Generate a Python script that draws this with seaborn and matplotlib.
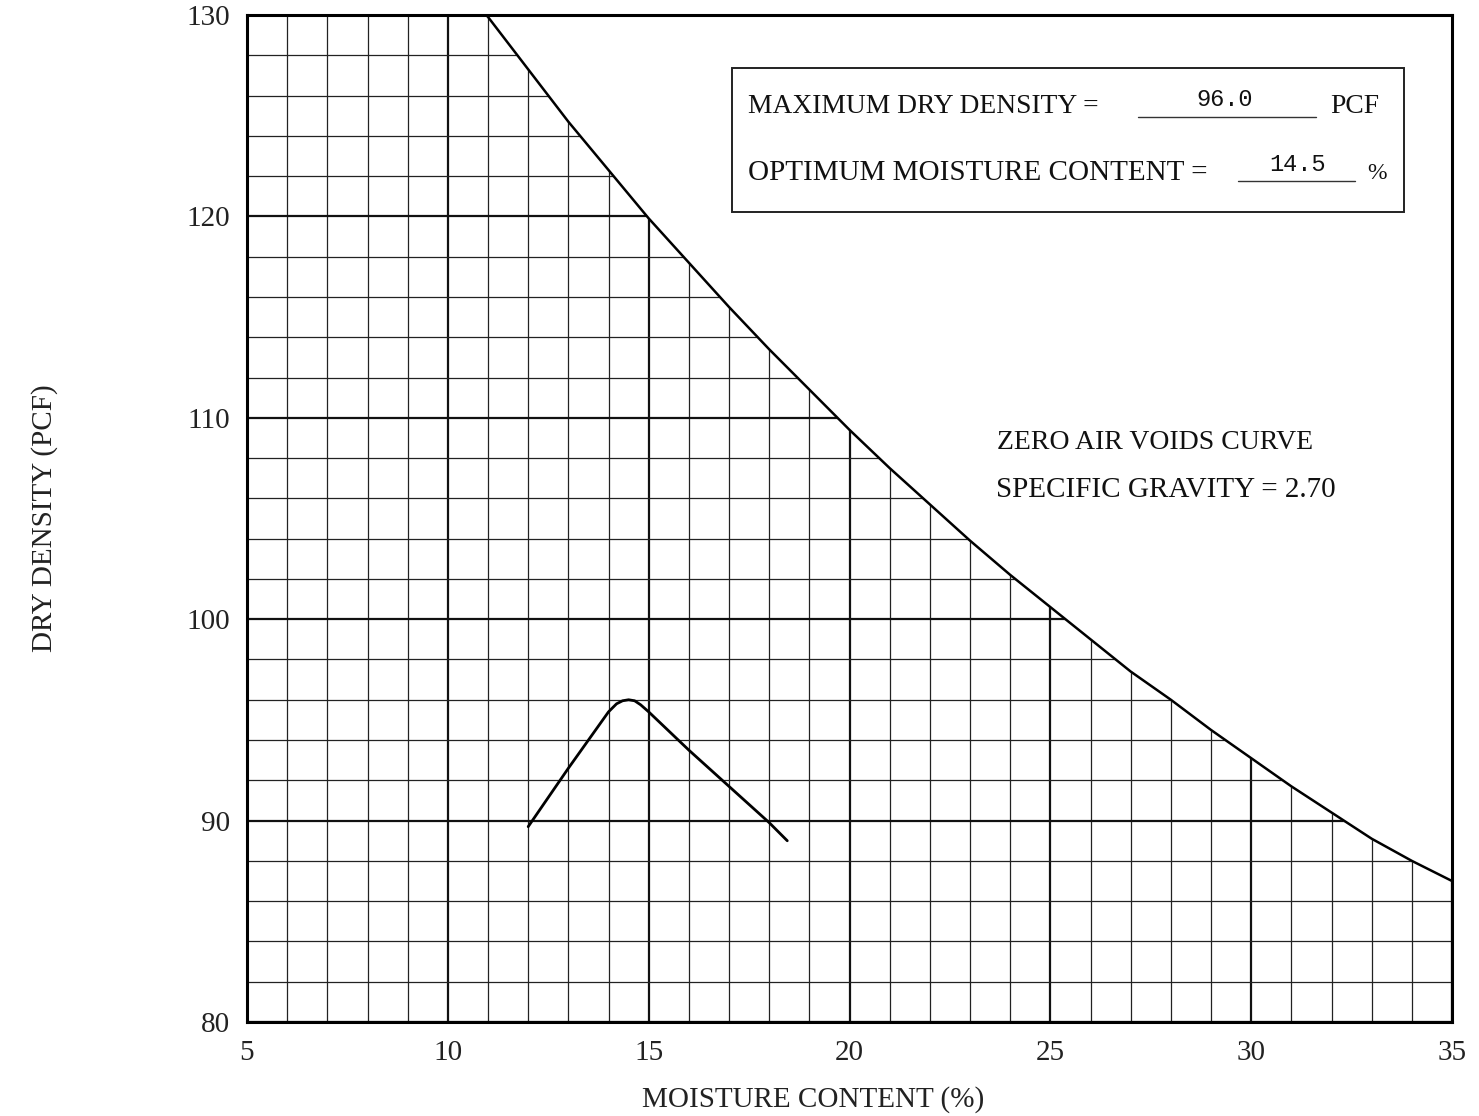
import matplotlib
matplotlib.use("Agg")
import matplotlib.pyplot as plt
import seaborn as sns
import pandas as pd
from matplotlib.ticker import MultipleLocator
from matplotlib.patches import Rectangle

# ---- data ----
zav_moisture = [10.95, 11, 12, 13, 14, 15, 16, 17, 18, 19, 20, 21, 22, 23, 24, 25,
                26, 27, 28, 29, 30, 31, 32, 33, 34, 35]
zav_density = [130.0, 129.9, 127.3, 124.7, 122.3, 119.9, 117.7, 115.5, 113.4, 111.4, 109.4,
               107.5, 105.7, 103.9, 102.2, 100.6, 99.0, 97.4, 96.0, 94.5, 93.1, 91.7,
               90.4, 89.1, 88.0, 87.0]

comp_moisture = [12.0, 13.0, 14.0, 14.2, 14.35, 14.5, 14.65, 14.8, 15.0, 16.0, 17.0, 18.0, 18.45]
comp_density = [89.7, 92.6, 95.4, 95.8, 95.95, 96.0, 95.95, 95.75, 95.4, 93.5, 91.7, 89.9, 89.0]

x_ticks = [5, 10, 15, 20, 25, 30, 35]
y_ticks = [80, 90, 100, 110, 120, 130]

max_dry_density = "96.0"
opt_moisture = "14.5"
zav_label = "ZERO AIR VOIDS CURVE"
gs_label = "SPECIFIC GRAVITY = 2.70"
x_label = "MOISTURE CONTENT (%)"
y_label = "DRY DENSITY (PCF)"

sns.set_theme(style="white")
plt.rcParams["font.family"] = ["Liberation Serif", "DejaVu Serif"]

fig = plt.figure(figsize=(14.79, 11.16), dpi=100)
ax = fig.add_axes([0.167, 0.0842, 0.8148, 0.9024])

zav = pd.DataFrame({"w": zav_moisture, "d": zav_density})
comp = pd.DataFrame({"w": comp_moisture, "d": comp_density})

sns.lineplot(data=zav, x="w", y="d", sort=False, estimator=None, color="black",
             linewidth=1.8, ax=ax, zorder=5)
sns.lineplot(data=comp, x="w", y="d", sort=False, estimator=None, color="black",
             linewidth=2.0, ax=ax, zorder=5)

ax.set_xlim(5, 35)
ax.set_ylim(80, 130)
ax.xaxis.set_minor_locator(MultipleLocator(1))
ax.yaxis.set_minor_locator(MultipleLocator(2))
ax.set_xticks(x_ticks)
ax.set_yticks(y_ticks)
ax.grid(which="minor", color="#222222", linewidth=0.9)
ax.grid(which="major", color="#111111", linewidth=1.6)
ax.set_axisbelow(True)
for s in ax.spines.values():
    s.set_color("black")
    s.set_linewidth(2.2)

ax.tick_params(axis="both", which="both", length=0)
ax.tick_params(axis="x", labelsize=21, pad=13, labelcolor="#222222")
ax.tick_params(axis="y", labelsize=21, pad=12, labelcolor="#222222")

ax.set_xlabel(x_label, fontsize=21, color="#222222")
ax.xaxis.set_label_coords(0.47, -0.064)
ax.set_ylabel(y_label, fontsize=21, labelpad=93, color="#222222")

# Info box
ax.add_patch(Rectangle((17.07, 120.2), 16.73, 7.17, facecolor="white",
                       edgecolor="#222222", linewidth=1.4, zorder=6))
ax.text(17.47, 125.45, "MAXIMUM DRY DENSITY =", fontsize=19.8, ha="left", va="center", zorder=7, color="#111111")
ax.plot([27.18, 31.61], [124.95, 124.95], color="#333333", linewidth=1.0, zorder=7)
ax.text(29.35, 125.8, max_dry_density, fontsize=17, ha="center", va="center",
        family="Liberation Mono", zorder=7, color="#111111")
ax.text(31.96, 125.45, "PCF", fontsize=19.8, ha="left", va="center", zorder=7, color="#111111")

ax.text(17.47, 122.15, "OPTIMUM MOISTURE CONTENT =", fontsize=21, ha="left", va="center", zorder=7, color="#111111")
ax.plot([29.67, 32.58], [121.75, 121.75], color="#333333", linewidth=1.0, zorder=7)
ax.text(31.14, 122.6, opt_moisture, fontsize=17, ha="center", va="center",
        family="Liberation Mono", zorder=7, color="#111111")
ax.text(32.9, 122.15, "%", fontsize=17, ha="left", va="center", zorder=7, color="#111111")

# Zero air voids annotation
ax.text(27.6, 108.75, zav_label, fontsize=20, ha="center", va="center", zorder=7,
        color="#111111", bbox=dict(facecolor="white", edgecolor="none", pad=2))
ax.text(27.88, 106.42, gs_label, fontsize=21, ha="center", va="center", zorder=7,
        color="#111111", bbox=dict(facecolor="white", edgecolor="none", pad=2))

# White out the grid above the ZAV curve
ax.fill_between(zav_moisture, zav_density, 130, color="white", zorder=1.5)

fig.savefig("out.png", dpi=100, facecolor="white")
